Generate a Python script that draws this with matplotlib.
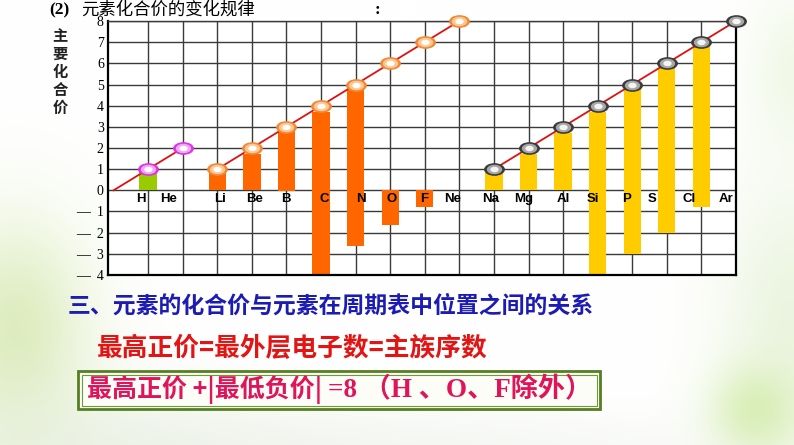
"""
主要化合价随原子序数的变化 (H - Ar), recreated with matplotlib.
"""

import numpy as np
import matplotlib
matplotlib.use("Agg")
import matplotlib.pyplot as plt
from matplotlib.path import Path
from matplotlib.patches import Rectangle


# ─── Data ────────────────────────────────────────────────────────────────────

elements = ["H", "He", "Li", "Be", "B", "C", "N", "O", "F", "Ne",
            "Na", "Mg", "Al", "Si", "P", "S", "Cl", "Ar"]

# highest positive valence marked by the circles on the red lines
period1_vals = [1, 2]
period2_vals = [1, 2, 3, 4, 5, 6, 7, 8]
period3_vals = [1, 2, 3, 4, 5, 6, 7, 8]

# bar ends as drawn in the picture (0 = no bar on that side)
bar_top = [0.9, 0, 0.88, 1.72, 2.86, 3.72, 4.9, 0, 0, 0,
           0.89, 1.73, 2.73, 3.72, 4.93, 5.8, 6.95, 0]
bar_bottom = [0, 0, 0, 0, -0.05, -4, -2.65, -1.62, -0.8, 0,
              0, 0, 0, -4, -3.0, -2.0, -0.8, 0]

ytick_vals = list(range(-4, 9))
ytick_labels = ["—  4", "—  3", "—  2", "—  1", "0",
                "1", "2", "3", "4", "5", "6", "7", "8"]

title = "元素化合价的变化规律"
ylabel = "主要化合价"
line1 = "三、元素的化合价与元素在周期表中位置之间的关系"
line2 = "最高正价=最外层电子数=主族序数"
line3a = "最高正价 +|最低负价| "
line3b = "=8 （H 、O、F除外）"


# ─── Styles ──────────────────────────────────────────────────────────────────

CJK = "Noto Sans CJK SC"
SERIF = ["Liberation Serif", CJK]
RED_LINE = "#E01010"
BAR_COLORS = ["#99CC00"] * 2 + ["#FF6600"] * 8 + ["#FFCC00"] * 8
# label nudges, in element spacings (labels sit a little off the grid lines)
label_dx = [-0.2, -0.4, 0.08, 0.08, -0.03, 0.1, 0.15, 0.05, -0.03, -0.2,
            -0.1, -0.15, 0.0, -0.15, -0.17, -0.43, -0.35, -0.3]

W, H = 794, 445
fig = plt.figure(figsize=(W / 100, H / 100), dpi=100)

# soft green background in pixel coords
bg = fig.add_axes([0, 0, 1, 1], zorder=0)
yy, xx = np.mgrid[0:H, 0:W]
img = np.ones((H, W, 3))
blobs = [  # cx, cy, rx, ry, weight, colour
    (15, 330, 75, 110, 0.65, (0.80, 0.89, 0.62)),
    (90, 450, 220, 70, 0.40, (0.85, 0.90, 0.80)),
    (420, 455, 320, 45, 0.30, (0.87, 0.90, 0.85)),
    (790, 320, 70, 140, 0.50, (0.85, 0.92, 0.76)),
    (755, 410, 45, 45, 0.60, (0.78, 0.91, 0.58)),
    (794, 70, 45, 80, 0.40, (0.87, 0.94, 0.78)),
]
for cx, cy, rx, ry, w, col in blobs:
    a = w * np.exp(-(((xx - cx) / rx) ** 2 + ((yy - cy) / ry) ** 2))
    img = img * (1 - a[..., None]) + np.array(col) * a[..., None]
bg.imshow(img, extent=(0, W, H, 0), aspect="auto")
bg.set_xlim(0, W)
bg.set_ylim(H, 0)
bg.axis("off")

# ─── Chart ───────────────────────────────────────────────────────────────────

ax = fig.add_axes([108 / W, 1 - 275 / H, 628 / W, 254 / H], zorder=1)
ax.set_facecolor("white")
x = np.arange(1, len(elements) + 1)

ax.set_xlim(-0.16, 18)
ax.set_ylim(-4, 8)
ax.set_xticks(x)
ax.set_xticklabels([])
ax.set_yticks(ytick_vals)
ax.set_yticklabels(ytick_labels, family="Liberation Serif", fontsize=10)
ax.tick_params(length=0, pad=3)
ax.set_axisbelow(True)
ax.grid(color="#3a3a3a", lw=1.0)
for side in ["left", "right", "bottom"]:
    ax.spines[side].set_linewidth(1.6)
    ax.spines[side].set_color("black")
ax.spines["top"].set_linewidth(1.0)
ax.spines["top"].set_color("#3a3a3a")

heights = np.array(bar_top) - np.array(bar_bottom)
ax.bar(x, heights, bottom=bar_bottom, width=0.5, color=BAR_COLORS,
       zorder=2, clip_on=False)

# ellipse marker
circ = Path.unit_circle()
ellipse = Path(circ.vertices * [1.0, 0.58], circ.codes)

periods = [
    (x[0:2], period1_vals, ("#D838E0", "#F2A6F5", "white"), True),
    (x[2:10], period2_vals, ("#F08A3A", "#FFC890", "white"), False),
    (x[10:18], period3_vals, ("#3C3C3C", "#A8A8A8", "#F4F4F4"), False),
]
for px, pv, cols, from_origin in periods:
    lx = ([0] if from_origin else []) + list(px)
    ly = ([0] if from_origin else []) + list(pv)
    ax.plot(lx, ly, color=RED_LINE, lw=1.3, zorder=3, clip_on=False)
    for ms, c in zip((14, 10, 5), cols):
        ax.plot(px, pv, ls="none", marker=ellipse, ms=ms, mfc=c, mec=c,
                zorder=4, clip_on=False)

for xi, name, dx in zip(x, elements, label_dx):
    ax.text(xi + dx, -0.42, name, ha="center", va="center", fontsize=9.5,
            weight="bold", family="Liberation Sans", zorder=5)

# ─── Titles and notes (pixel coords on background) ───────────────────────────

bg.text(49, 10, "(2)", ha="left", va="center", fontsize=12.5, weight="bold",
        family="Liberation Serif")
bg.text(81, 10, title, ha="left", va="center", fontsize=12.5, family=CJK)
bg.text(375, 10, ":", ha="left", va="center", fontsize=12.5, weight="bold",
        family="Liberation Serif")
bg.text(60, 72, "\n".join(ylabel), ha="center", va="center", fontsize=11,
        weight="bold", family=CJK, color="#222222", linespacing=1.15)

bg.text(68, 306, line1, ha="left", va="center", fontsize=16.5, weight="bold",
        family=CJK, color="#1C1CB4")
bg.text(97, 348, line2, ha="left", va="center", fontsize=18.5, weight="bold",
        family=CJK, color="#E31414")

bg.add_patch(Rectangle((78, 371), 522, 38, facecolor="#FDFDF8",
                       edgecolor="#557F22", lw=2.0, zorder=2))
bg.add_patch(Rectangle((81.5, 374.5), 515, 31, facecolor="none",
                       edgecolor="#6E9A34", lw=0.8, zorder=2))
t1 = bg.text(87, 390, line3a, ha="left", va="center", fontsize=18,
             weight="bold", family=CJK, color="#E0145A", zorder=3)
bg.annotate(line3b, xy=(1, 0.5), xycoords=t1, ha="left", va="center",
            fontsize=19.5, weight="bold", family=SERIF, color="#E0145A",
            zorder=3)

plt.savefig("out.png", dpi=100)
